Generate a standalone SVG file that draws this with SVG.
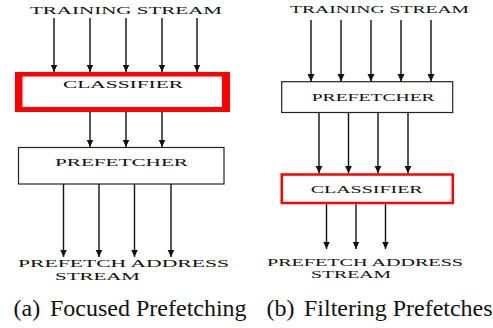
<svg xmlns="http://www.w3.org/2000/svg" width="493" height="328" viewBox="0 0 493 328">
  <style>
    text { font-family: 'Liberation Serif', 'DejaVu Serif', serif; fill: #111; }
    .lbl { font-size: 11px; }
    .cap { font-size: 24px; }
    .box { fill: #fff; stroke: #222; stroke-width: 1.2; }
    .wire { stroke: #111; stroke-width: 1.4; fill: none; marker-end: url(#head); }
  </style>
  <defs>
    <marker id="head" markerUnits="userSpaceOnUse" markerWidth="8" markerHeight="8" refX="7.5" refY="3.5" orient="auto">
      <path d="M0,0 L7.5,3.5 L0,7 z" fill="#111"/>
    </marker>
  </defs>
  <rect width="493" height="328" fill="#fff"/>

  <!-- (a) focused prefetching -->
  <g id="a-training">
    <text class="lbl" font-family="Liberation Serif" x="30" y="13.5" textLength="192" lengthAdjust="spacingAndGlyphs">TRAINING STREAM</text>
  </g>
  <g id="a-classifier">
    <path d="M15,72 H230 V112 H15 Z M22.7,76.7 V106.8 H221.8 V76.7 Z" fill="#f00" fill-rule="evenodd"/>
    <rect x="22.7" y="76.7" width="199.1" height="30.1" fill="#fff"/>
    <text class="lbl" font-family="Liberation Serif" x="63" y="88" font-size="12" textLength="120" lengthAdjust="spacingAndGlyphs">CLASSIFIER</text>
  </g>
  <g id="a-prefetcher">
    <rect class="box" x="18.5" y="147.5" width="205.5" height="36.5"/>
    <text class="lbl" font-family="Liberation Serif" x="55" y="166" font-size="11.5" textLength="133" lengthAdjust="spacingAndGlyphs">PREFETCHER</text>
  </g>
  <g id="a-output">
    <text class="lbl" font-family="Liberation Serif" x="18" y="266.5" textLength="211" lengthAdjust="spacingAndGlyphs">PREFETCH ADDRESS</text>
    <text class="lbl" font-family="Liberation Serif" x="55" y="280" textLength="85" lengthAdjust="spacingAndGlyphs">STREAM</text>
  </g>
  <g id="a-caption">
    <text class="cap" font-family="Liberation Serif" y="316"><tspan x="13.5">(a)</tspan><tspan x="50">Focused Prefetching</tspan></text>
  </g>

  <!-- (b) filtering prefetches -->
  <g id="b-training">
    <text class="lbl" font-family="Liberation Serif" x="290" y="13" textLength="179" lengthAdjust="spacingAndGlyphs">TRAINING STREAM</text>
  </g>
  <g id="b-prefetcher">
    <rect class="box" x="281.7" y="81.7" width="171" height="30.8"/>
    <text class="lbl" font-family="Liberation Serif" x="311.7" y="100.7" textLength="123" lengthAdjust="spacingAndGlyphs">PREFETCHER</text>
  </g>
  <g id="b-classifier">
    <rect x="281.8" y="174.5" width="171" height="28.5" fill="#fff" stroke="#f00" stroke-width="2.5"/>
    <text class="lbl" font-family="Liberation Serif" x="310.7" y="193.3" textLength="112" lengthAdjust="spacingAndGlyphs">CLASSIFIER</text>
  </g>
  <g id="b-output">
    <text class="lbl" font-family="Liberation Serif" x="267" y="265.5" textLength="196" lengthAdjust="spacingAndGlyphs">PREFETCH ADDRESS</text>
    <text class="lbl" font-family="Liberation Serif" x="311" y="277.5" textLength="80" lengthAdjust="spacingAndGlyphs">STREAM</text>
  </g>
  <g id="b-caption">
    <text class="cap" font-family="Liberation Serif" y="316"><tspan x="266.5">(b)</tspan><tspan x="304">Filtering Prefetches</tspan></text>
  </g>

  <!-- connectors -->
  <g id="connectors">
    <!-- (a) training stream into classifier -->
    <line class="wire" x1="54" y1="18" x2="54" y2="72"/>
    <line class="wire" x1="90" y1="18" x2="90" y2="72"/>
    <line class="wire" x1="126" y1="18" x2="126" y2="72"/>
    <line class="wire" x1="162" y1="18" x2="162" y2="72"/>
    <line class="wire" x1="197" y1="18" x2="197" y2="72"/>
    <!-- (a) classifier into prefetcher -->
    <line class="wire" x1="90" y1="112" x2="90" y2="147"/>
    <line class="wire" x1="126" y1="112" x2="126" y2="147"/>
    <line class="wire" x1="162" y1="112" x2="162" y2="147"/>
    <!-- (a) prefetcher out -->
    <line class="wire" x1="63.5" y1="184" x2="63.5" y2="257"/>
    <line class="wire" x1="99" y1="184" x2="99" y2="257"/>
    <line class="wire" x1="134.5" y1="184" x2="134.5" y2="257"/>
    <line class="wire" x1="171" y1="184" x2="171" y2="257"/>

    <!-- (b) training stream into prefetcher -->
    <line class="wire" x1="311" y1="20" x2="311" y2="81.5"/>
    <line class="wire" x1="341" y1="20" x2="341" y2="81.5"/>
    <line class="wire" x1="371" y1="20" x2="371" y2="81.5"/>
    <line class="wire" x1="401" y1="20" x2="401" y2="81.5"/>
    <line class="wire" x1="431" y1="20" x2="431" y2="81.5"/>
    <!-- (b) prefetcher into classifier -->
    <line class="wire" x1="319" y1="112.5" x2="319" y2="173.3"/>
    <line class="wire" x1="348.5" y1="112.5" x2="348.5" y2="173.3"/>
    <line class="wire" x1="378" y1="112.5" x2="378" y2="173.3"/>
    <line class="wire" x1="408" y1="112.5" x2="408" y2="173.3"/>
    <!-- (b) classifier out -->
    <line class="wire" x1="326.5" y1="204.2" x2="326.5" y2="249"/>
    <line class="wire" x1="356" y1="204.2" x2="356" y2="249"/>
    <line class="wire" x1="385.5" y1="204.2" x2="385.5" y2="249"/>
  </g>
</svg>
